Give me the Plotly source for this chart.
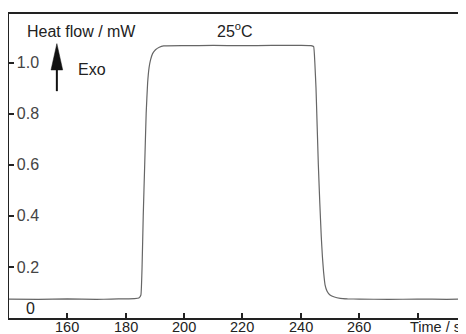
import plotly.graph_objects as go

time_s = [140, 150, 160, 170, 175, 180, 183, 184.5, 185.2, 185.6, 186.0, 186.5, 187.0, 187.5, 188.0,
          188.5, 189.2, 190.2, 191.5, 193, 200, 210, 220, 230, 240, 243.5, 244.4, 244.8, 245.2, 245.6,
          246.0, 246.5, 247.0, 247.4, 247.8, 248.3, 249, 250, 251.5, 253.5, 256, 260, 270, 280, 290, 297]
heat_mw = [0.074, 0.073, 0.075, 0.073, 0.074, 0.075, 0.076, 0.078, 0.09, 0.2, 0.4, 0.6, 0.8, 0.92, 0.98,
           1.01, 1.035, 1.05, 1.06, 1.065, 1.066, 1.067, 1.066, 1.067, 1.067, 1.066, 1.062, 1.0, 0.9, 0.75,
           0.6, 0.45, 0.32, 0.24, 0.18, 0.13, 0.105, 0.09, 0.082, 0.077, 0.075, 0.074, 0.073, 0.074, 0.073, 0.074]

x_ticks = [160, 180, 200, 220, 240, 260, 280]
x_labels = ["160", "180", "200", "220", "240", "260", "Time / s"]
y_ticks = [0.2, 0.4, 0.6, 0.8, 1.0]
y_labels = ["0.2", "0.4", "0.6", "0.8", "1.0"]

FONT = "Liberation Sans, Arial, sans-serif"
INK = "#222222"

fig = go.Figure()
fig.add_trace(go.Scatter(x=time_s, y=heat_mw, mode="lines",
                         line=dict(color="#666666", width=1.2, shape="spline", smoothing=0.3),
                         hoverinfo="skip", showlegend=False))

# page body has an 8px default margin, so the figure is sized to fit the 466x334 window
fig.update_layout(
    width=458, height=326,
    margin=dict(l=1, r=0, t=6, b=16, autoexpand=False),
    paper_bgcolor="white", plot_bgcolor="white",
    font=dict(family=FONT, size=15, color=INK),
    xaxis=dict(range=[140, 296.6], tickvals=x_ticks, showticklabels=False, automargin=False,
               ticks="inside", ticklen=5, tickwidth=1.5, tickcolor=INK,
               showline=True, linecolor=INK, linewidth=2, mirror=True,
               showgrid=False, zeroline=False),
    yaxis=dict(range=[0, 1.19], tickvals=y_ticks, ticktext=y_labels, automargin=False,
               ticks="inside", ticklen=5, tickwidth=1.5, tickcolor=INK,
               ticklabelposition="inside", ticklabelstandoff=3,
               showline=True, linecolor=INK, linewidth=2,
               showgrid=False, zeroline=False, tickfont=dict(size=16)),
)

# x tick labels placed just under the axis line (they sit very close to the bottom edge)
for tv, tl in zip(x_ticks, x_labels):
    last = tl == x_labels[-1]
    fig.add_annotation(x=tv, xref="x", y=0, yref="paper", text=tl, showarrow=False,
                       xanchor="left" if last else "center", xshift=-9 if last else 0,
                       yanchor="top", yshift=0, borderpad=0,
                       font=dict(family=FONT, size=14.5, color=INK))

ann = [
    dict(x=145.5, y=1.123, text="Heat flow / mW", xanchor="left"),
    dict(x=217.4, y=1.127, text="25<sup>o</sup>C", xanchor="center"),
    dict(x=163.0, y=0.971, text="Exo", xanchor="left"),
    dict(x=145.3, y=0.039, text="0", xanchor="left"),
]
for a in ann:
    fig.add_annotation(xref="x", yref="y", showarrow=False, yanchor="middle",
                       font=dict(family=FONT, size=16, color=INK), **a)

# Exo arrow
fig.add_shape(type="path", xref="x", yref="y",
              path="M 156.4 1.074 L 154.4 0.971 L 158.4 0.971 Z",
              fillcolor="#111111", line=dict(color="#111111", width=0.5))
fig.add_shape(type="line", xref="x", yref="y", x0=156.4, x1=156.4, y0=0.98, y1=0.888,
              line=dict(color="#111111", width=2))

fig.write_html("out.html")
